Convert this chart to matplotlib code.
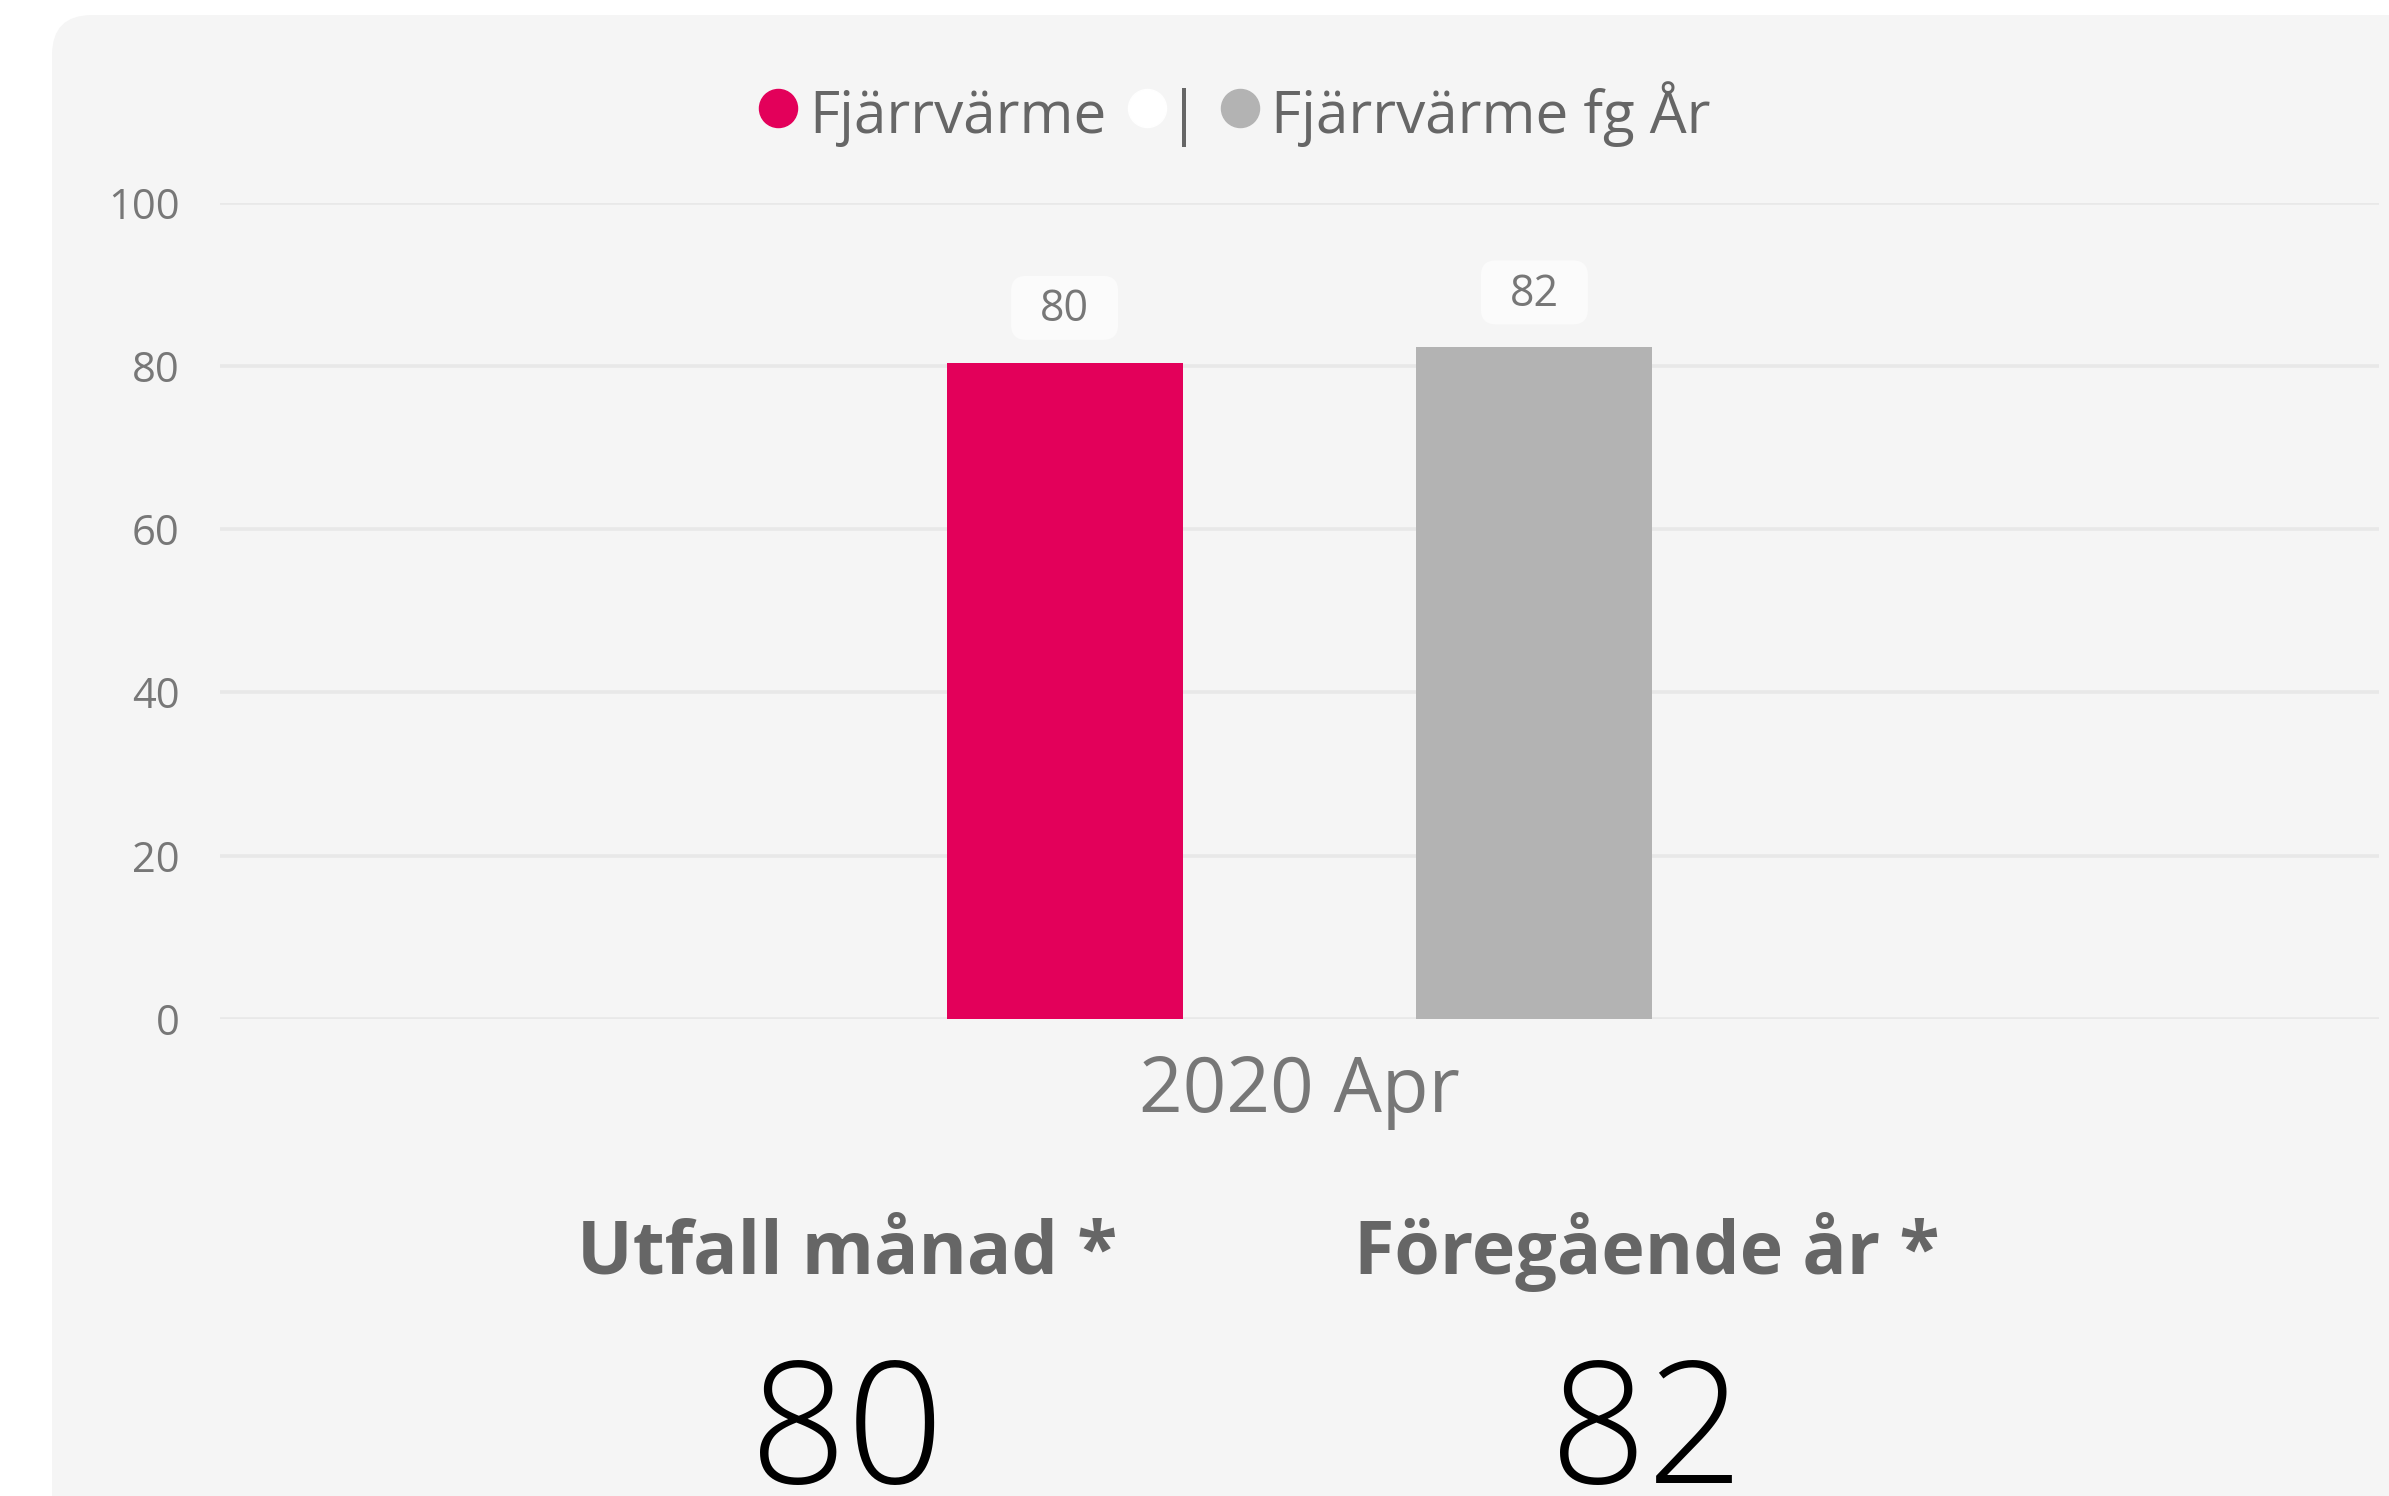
import matplotlib
matplotlib.use("Agg")
import matplotlib.pyplot as plt
from matplotlib.patches import FancyBboxPatch
from matplotlib.lines import Line2D
from matplotlib.transforms import ScaledTranslation

# ---------------- data ----------------
categories = ["2020 Apr"]
series_names = ["Fjärrvärme", "Fjärrvärme fg År"]
values_current = [80.4]
values_previous = [82.3]
yticks = [0, 20, 40, 60, 80, 100]
kpi_titles = ["Utfall månad *", "Föregående år *"]
kpi_values = ["80", "82"]

# ---------------- style ----------------
RED = "#e3005a"
GREY = "#b3b3b3"
PANEL = "#f5f5f5"
GRID = "#e8e8e8"
TXT = "#666666"
TICK = "#777777"

plt.rcParams['font.family'] = ['Open Sans', 'DejaVu Sans']

W, H = 2389, 1496
DPI = 100
fig = plt.figure(figsize=(W / DPI, H / DPI), dpi=DPI)
fig.patch.set_facecolor("white")


def fx(px):
    return px / W


def fy(py):
    return 1 - py / H


# background panel (pixel -> inches)
panel = FancyBboxPatch((0.52, -0.5), 24.5, (H - 15) / DPI + 0.5,
                       boxstyle="round,pad=0,rounding_size=0.40",
                       transform=fig.dpi_scale_trans, fc=PANEL, ec="none",
                       zorder=-10)
fig.patches.append(panel)

# axes
ax_left, ax_right, ax_top, ax_bottom = 220, 2379, 203, 1018.7
ax = fig.add_axes([fx(ax_left), fy(ax_bottom), fx(ax_right - ax_left),
                   (ax_bottom - ax_top) / H])
ax.set_zorder(1)
ax.set_facecolor("none")
ax.set_xlim(-0.5, 0.5)
ax.set_ylim(0, 100)
for s in ax.spines.values():
    s.set_visible(False)
ax.set_yticks(yticks)
ax.set_yticklabels([str(t) for t in yticks], fontsize=30, color=TICK)
ax.tick_params(axis='y', length=0, pad=29)
ax.grid(axis='y', color=GRID, linewidth=2.6)
ax.set_axisbelow(True)

x0 = 0
width = 0.1094
offset = 0.1088
bars1 = ax.bar([x0 - offset], values_current, width=width, color=RED, zorder=3)
bars2 = ax.bar([x0 + offset], values_previous, width=width, color=GREY, zorder=3)

ax.set_xticks([x0])
ax.set_xticklabels(categories, fontsize=55, color=TICK)
ax.tick_params(axis='x', length=0, pad=25)

# data labels with rounded boxes
for bars in (bars1, bars2):
    for b in bars:
        v = b.get_height()
        cx = b.get_x() + b.get_width() / 2
        tr = fig.dpi_scale_trans + ScaledTranslation(cx, v, ax.transData)
        box = FancyBboxPatch((-0.535, 0.23), 1.07, 0.64,
                             boxstyle="round,pad=0,rounding_size=0.15",
                             transform=tr, fc="#fbfbfb", ec="none", zorder=4,
                             clip_on=False)
        ax.add_patch(box)
        ax.text(0, 0.53, f"{v:.0f}", transform=tr, ha="center", va="center",
                fontsize=31, color=TICK, zorder=5, clip_on=False)

# legend (manual)
leg_y = 108
fig.add_artist(Line2D([fx(778)], [fy(leg_y)], marker='o', ms=27.4, color=RED,
                      mec=RED, lw=0, transform=fig.transFigure))
fig.text(fx(809), fy(133), series_names[0], fontsize=42, color=TXT,
         ha="left", va="baseline")
fig.add_artist(Line2D([fx(1147)], [fy(leg_y)], marker='o', ms=27.4, color="white",
                      mec="white", lw=0, transform=fig.transFigure))
fig.text(fx(1184), fy(133), "|", fontsize=42, color=TXT, ha="center",
         va="baseline")
fig.add_artist(Line2D([fx(1240)], [fy(leg_y)], marker='o', ms=27.4, color=GREY,
                      mec=GREY, lw=0, transform=fig.transFigure))
fig.text(fx(1271), fy(133), series_names[1], fontsize=42, color=TXT,
         ha="left", va="baseline")

# KPI cards
kpi_x = [847, 1647]
for xk, t, v in zip(kpi_x, kpi_titles, kpi_values):
    fig.text(fx(xk), fy(1274), t, fontsize=53, fontweight="bold", color=TXT,
             ha="center", va="baseline")
    fig.text(fx(xk), fy(1483), v, fontsize=122, fontweight="light",
             color="black", ha="center", va="baseline",
             family=["Open Sans", "DejaVu Sans"])

fig.savefig("out.png", dpi=DPI, facecolor="white")
